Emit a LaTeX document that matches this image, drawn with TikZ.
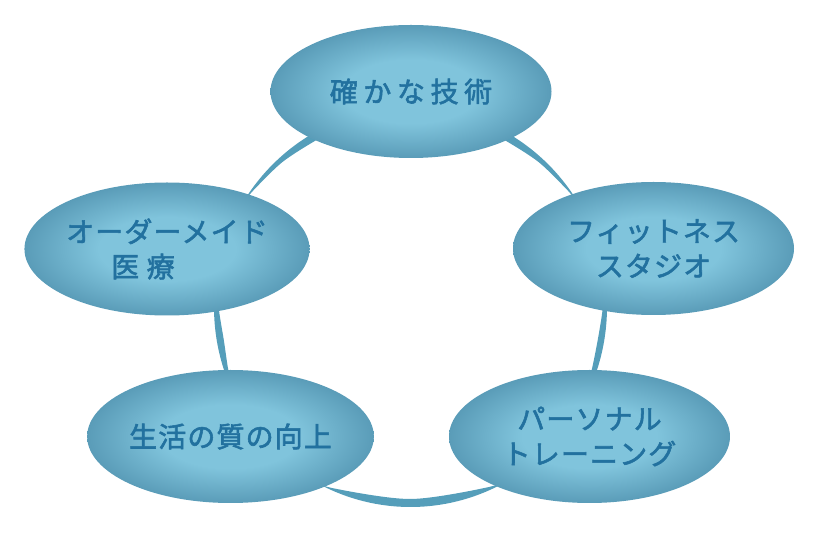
\documentclass[tikz,border=0pt]{standalone}
\usepackage{fontspec}
\newfontfamily\jpfont{Noto Sans CJK JP}[LetterSpace=4, FakeBold=2]
\newfontfamily\jpwide{Noto Sans CJK JP}[LetterSpace=20, FakeBold=2]
\usetikzlibrary{shapes.geometric}

\definecolor{ringblue}{HTML}{559EBA}
\definecolor{balllight}{HTML}{80C4DC}
\definecolor{balldark}{HTML}{5A9CB8}
\definecolor{textblue}{HTML}{22719F}

\pgfdeclareradialshading{bubbleshade}{\pgfpoint{0bp}{0bp}}{color(0bp)=(balllight); color(12bp)=(balllight); color(25bp)=(balldark); color(50bp)=(balldark)}

\tikzset{
	bubble/.style={ellipse, minimum width=210.75pt, minimum height=99.75pt, inner sep=0pt,
		shading=bubbleshade, align=center, text=textblue,
		font=\jpfont\fontsize{21}{26.25}\selectfont},
	loopseg/.style={fill=ringblue}
}

\begin{document}
\begin{tikzpicture}[x=0.75pt, y=0.75pt]
		\useasboundingbox (0,0) rectangle (825,550);
		\coordinate (hub) at (410.5,243);
		% ring pieces between the bubbles
		\begin{scope}[shift={(hub)}]
			\fill[loopseg] (114:196.5 and 200) arc[start angle=114, end angle=148, x radius=196.5, y radius=200]
				-- plot[smooth] coordinates {(148:195.5 and 199) (144:194.5 and 198) (132:191.5 and 195) (120:189 and 192.5) (114:188.5 and 192)} -- cycle;
			\fill[loopseg] (66:196.5 and 200) arc[start angle=66, end angle=32, x radius=196.5, y radius=200]
				-- plot[smooth] coordinates {(32:195.5 and 199) (36:194.5 and 198) (48:191.5 and 195) (60:189 and 192.5) (66:188.5 and 192)} -- cycle;
			\fill[loopseg] (176:196.5 and 200) arc[start angle=176, end angle=204, x radius=196.5, y radius=200]
				-- plot[smooth] coordinates {(204:193.5 and 197) (199:192.5 and 196) (190:189.5 and 193) (181:191.5 and 195) (176:192 and 195.5)} -- cycle;
			\fill[loopseg] (4:196.5 and 200) arc[start angle=4, end angle=-24, x radius=196.5, y radius=200]
				-- plot[smooth] coordinates {(-24:192.5 and 196) (-19:191.5 and 195) (-10:190 and 193.5) (-1:192 and 195.5) (4:192.5 and 196)} -- cycle;
			\fill[loopseg] (240:196.5 and 200) arc[start angle=240, end angle=300, x radius=196.5, y radius=200]
				-- plot[smooth] coordinates {(300:194 and 197.5) (294:193.5 and 197) (270:188.5 and 192) (246:194.5 and 198) (240:195 and 198.5)} -- cycle;
		\end{scope}
		% bubbles
		\node[bubble, font=\jpwide\fontsize{21}{26.25}\selectfont] (skill) at (411,458.5) {確かな技術};
		\node[bubble] (studio) at (653.5,301.5) {フィットネス\\スタジオ};
		\node[bubble] (training) at (589.5,113.5) {パーソナル\\トレーニング};
		\node[bubble] (life) at (230.5,113.5) {生活の質の向上};
		\node[bubble] (medical) at (167,301) {オーダーメイド\\医 療\hspace*{36pt}};
	\end{tikzpicture}
\end{document}
